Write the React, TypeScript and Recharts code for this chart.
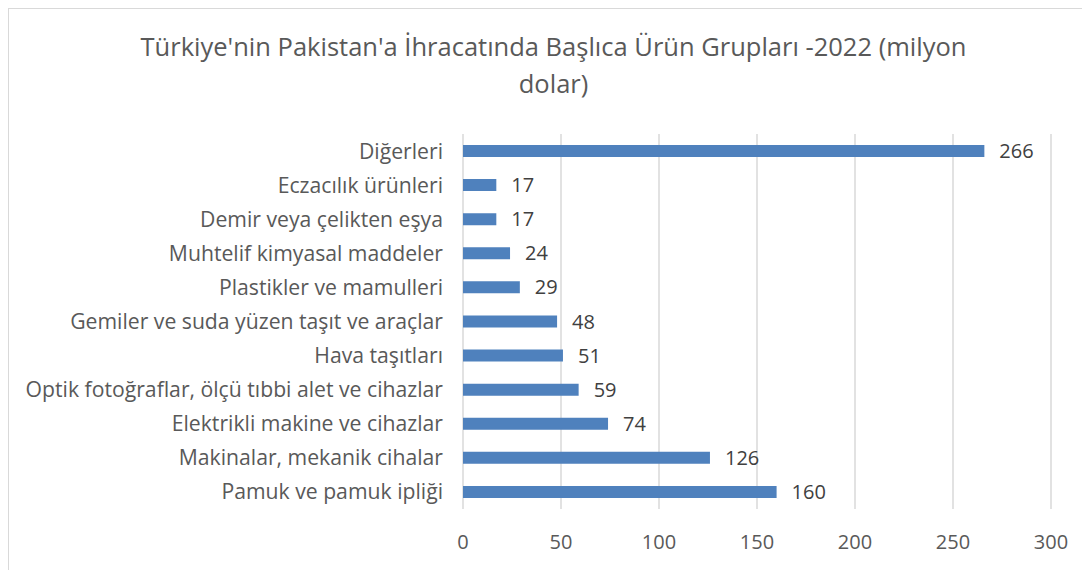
import { BarChart, Bar, XAxis, YAxis, CartesianGrid, LabelList } from 'recharts';

// Türkiye -> Pakistan export, main product groups 2022 (million USD)
const categories = [
  'Diğerleri',
  'Eczacılık ürünleri',
  'Demir veya çelikten eşya',
  'Muhtelif kimyasal maddeler',
  'Plastikler ve mamulleri',
  'Gemiler ve suda yüzen taşıt ve araçlar',
  'Hava taşıtları',
  'Optik fotoğraflar, ölçü tıbbi alet ve cihazlar',
  'Elektrikli makine ve cihazlar',
  'Makinalar, mekanik cihalar',
  'Pamuk ve pamuk ipliği',
];
const values = [266, 17, 17, 24, 29, 48, 51, 59, 74, 126, 160];
const xTicks = [0, 50, 100, 150, 200, 250, 300];

const data = categories.map((name, i) => ({ name, value: values[i] }));

const font = '"Open Sans", "Noto Sans", sans-serif';

const App = () => {
  return (
    <div
      style={{
        position: 'relative',
        width: 1081,
        height: 561,
        borderLeft: '1px solid #d9d9d9',
        borderTop: '1px solid #d9d9d9',
        background: '#fff',
        fontFamily: font,
      }}
    >
      <div
        style={{
          position: 'absolute',
          top: 19,
          left: 0,
          width: 1089,
          textAlign: 'center',
          fontSize: 25.5,
          lineHeight: '37px',
          color: '#595959',
        }}
      >
        Türkiye'nin Pakistan'a İhracatında Başlıca Ürün Grupları -2022 (milyon
        <br />
        dolar)
      </div>
      <BarChart
        width={1081}
        height={561}
        data={data}
        layout="vertical"
        margin={{ top: 125, right: 39, bottom: 0, left: 0 }}
      >
        <CartesianGrid horizontal={false} stroke="#d9d9d9" strokeWidth={1.5} />
        <XAxis
          type="number"
          domain={[0, 300]}
          ticks={xTicks}
          axisLine={false}
          tickLine={false}
          tickSize={0}
          tickMargin={26}
          height={61}
          tick={{ fill: '#595959', fontSize: 20, fontFamily: font }}
        />
        <YAxis
          type="category"
          dataKey="name"
          width={454}
          axisLine={false}
          tickLine={false}
          tickSize={0}
          tickMargin={20}
          interval={0}
          tick={{ fill: '#595959', fontSize: 21.2, fontFamily: font }}
        />
        <Bar dataKey="value" fill="#4F81BD" barSize={12} isAnimationActive={false}>
          <LabelList
            dataKey="value"
            position="right"
            offset={15}
            style={{ fill: '#404040', fontSize: 20, fontFamily: font }}
          />
        </Bar>
      </BarChart>
    </div>
  );
};

export default App;
